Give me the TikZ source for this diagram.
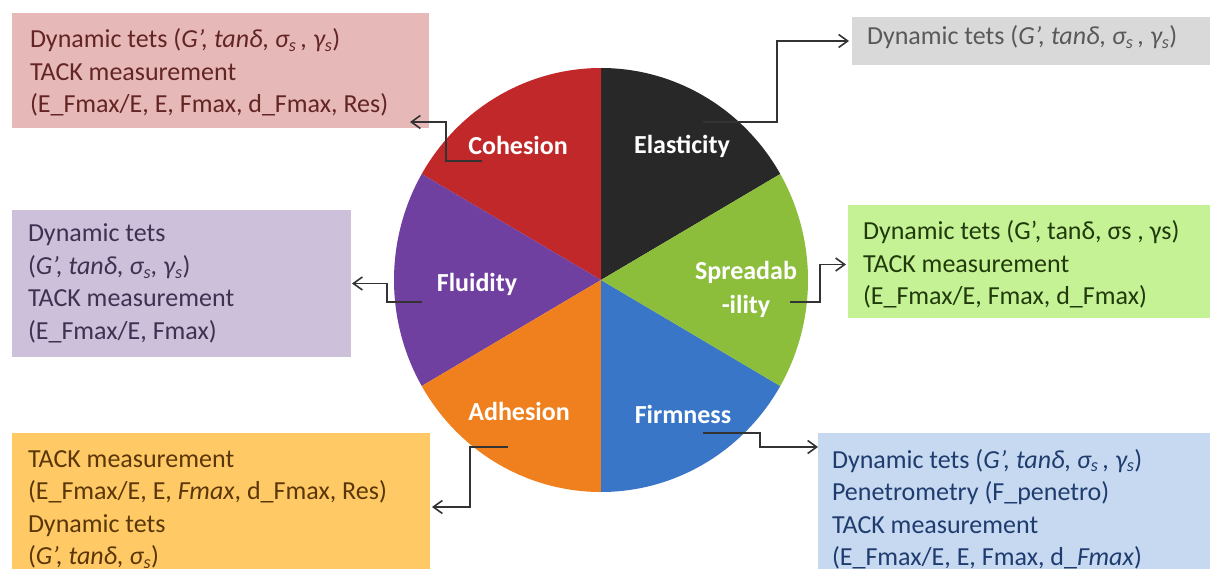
\documentclass[tikz,border=0pt]{standalone}
\usepackage{fontspec}
\setmainfont{Carlito}
\usetikzlibrary{arrows.meta,calc}
\definecolor{cRed}{HTML}{C0282A}
\definecolor{cBlack}{HTML}{282828}
\definecolor{cGreen}{HTML}{8CBE3C}
\definecolor{cBlue}{HTML}{3A76C8}
\definecolor{cOrange}{HTML}{F0801E}
\definecolor{cPurple}{HTML}{7040A0}
\definecolor{bPink}{HTML}{E6B9B8}
\definecolor{bGrey}{HTML}{D9D9D9}
\definecolor{bLav}{HTML}{CCC0DA}
\definecolor{bGreen}{HTML}{C6F296}
\definecolor{bOrange}{HTML}{FFCA66}
\definecolor{bBlue}{HTML}{C6D9F1}
\definecolor{tPink}{HTML}{632523}
\definecolor{tGrey}{HTML}{595959}
\definecolor{tLav}{HTML}{3F3151}
\definecolor{tGreen}{HTML}{213A0B}
\definecolor{tOrange}{HTML}{5A3608}
\definecolor{tBlue}{HTML}{1F3C6E}
\newcommand{\subs}[1]{\textsubscript{#1}}
\begin{document}
\begin{tikzpicture}[x=1pt,y=-1pt,
  bx/.style={rectangle,inner sep=0pt,outer sep=0pt,anchor=north west},
  txt/.style={inner sep=0pt,outer sep=0pt,anchor=north west,align=left,
    font=\fontsize{26}{32.5}\selectfont},
  lbl/.style={inner sep=0pt,outer sep=0pt,anchor=base,text=white,
    font=\fontsize{26}{33}\selectfont\bfseries},
  conn/.style={draw=black!80,line width=1.6pt,-{Straight Barb[length=9pt,width=13pt,line width=1.6pt]}}]
\useasboundingbox (0,0) rectangle (1210,569);
\clip (0,0) rectangle (1210,569);

% boxes
\node[bx,fill=bPink,minimum width=417pt,minimum height=115pt] (cohbox) at (12,13) {};
\node[bx,fill=bGrey,minimum width=370pt,minimum height=48pt] (elasbox) at (852,17) {};
\node[bx,fill=bLav,minimum width=339pt,minimum height=147pt] (flubox) at (12,210) {};
\node[bx,fill=bGreen,minimum width=370pt,minimum height=113pt] (sprbox) at (848,205) {};
\node[bx,fill=bOrange,minimum width=418pt,minimum height=160pt] (adhbox) at (12,433) {};
\node[bx,fill=bBlue,minimum width=400pt,minimum height=160pt] (firbox) at (818,433) {};

% box texts
\node[txt,text=tPink] (cohtxt) at (30,25.25) {\strut Dynamic tets (\textit{G’, tanδ, σ\subs{s}\,, γ\subs{s}})\\TACK measurement\\(E\_Fmax/E, E, Fmax, d\_Fmax, Res)};
\node[txt,text=tGrey] (elastxt) at (867,22.25) {\strut Dynamic tets (\textit{G’, tanδ, σ\subs{s}\,, γ\subs{s}})};
\node[txt,text=tLav] (flutxt) at (28,219.25) {\strut Dynamic tets\\(\textit{G’, tanδ, σ\subs{s}, γ\subs{s}})\\TACK measurement\\(E\_Fmax/E, Fmax)};
\node[txt,text=tGreen] (sprtxt) at (863,217.25) {\strut Dynamic tets (G’, tanδ, σs , γs)\\TACK measurement\\(E\_Fmax/E, Fmax, d\_Fmax)};
\node[txt,text=tOrange] (adhtxt) at (28,444.25) {\strut TACK measurement\\(E\_Fmax/E, E, \textit{Fmax}, d\_Fmax, Res)\\Dynamic tets\\(\textit{G’, tanδ, σ\subs{s}})};
\node[txt,text=tBlue] (firtxt) at (832,445.25) {\strut Dynamic tets (\textit{G’, tanδ, σ\subs{s}\,, γ\subs{s}})\\Penetrometry (F\_penetro)\\TACK measurement\\(E\_Fmax/E, E, Fmax, d\_\textit{Fmax})};

% pie
\begin{scope}[shift={(601,280)},yscale=-1]
\fill[cBlack]  (0,0) -- (30:207 and 212)  arc[start angle=30, end angle=90, x radius=207, y radius=212] -- cycle;
\fill[cRed]    (0,0) -- (90:207 and 212)  arc[start angle=90, end angle=150, x radius=207, y radius=212] -- cycle;
\fill[cPurple] (0,0) -- (150:207 and 212) arc[start angle=150, end angle=210, x radius=207, y radius=212] -- cycle;
\fill[cOrange] (0,0) -- (210:207 and 212) arc[start angle=210, end angle=270, x radius=207, y radius=212] -- cycle;
\fill[cBlue]   (0,0) -- (270:207 and 212) arc[start angle=270, end angle=330, x radius=207, y radius=212] -- cycle;
\fill[cGreen]  (0,0) -- (330:207 and 212) arc[start angle=330, end angle=390, x radius=207, y radius=212] -- cycle;
\end{scope}

% slice labels
\node[lbl] (lcoh) at (518,155) {Cohesion};
\node[lbl] (lela) at (682,154) {Elasticity};
\node[lbl] (lflu) at (477,291) {Fluidity};
\node[lbl,anchor=north,align=center] (lspr) at (746,256.9) {\strut Spreadab\\-ility};
\node[lbl] (ladh) at (519,420) {Adhesion};
\node[lbl] (lfir) at (683,423) {Firmness};

% connector starts
\coordinate (cohs) at (482,161);
\coordinate (elas) at (703,122);
\coordinate (sprs) at (790,302);
\coordinate (flus) at (422,302);
\coordinate (adhs) at (508,447);
\coordinate (firs) at (703,433);

\draw[conn] (cohs) -- ++(-36,0) |- ([xshift=-19pt,yshift=6pt]cohbox.south east);
\draw[conn] (elas) -- ++(74,0) |- ([xshift=-3pt]elasbox.west);
\draw[conn] (sprs) -- ++(30,0) |- ([xshift=-2pt,yshift=-3pt]sprbox.west);
\draw[conn] (flus) -- ++(-35,0) |- ([xshift=1pt]flubox.east);
\draw[conn] (adhs) -- ++(-38,0) |- ([xshift=2pt,yshift=-74pt]adhbox.north east);
\draw[conn] (firs) -- ++(57,0) |- ([yshift=-14pt]firbox.north west);
\end{tikzpicture}
\end{document}
